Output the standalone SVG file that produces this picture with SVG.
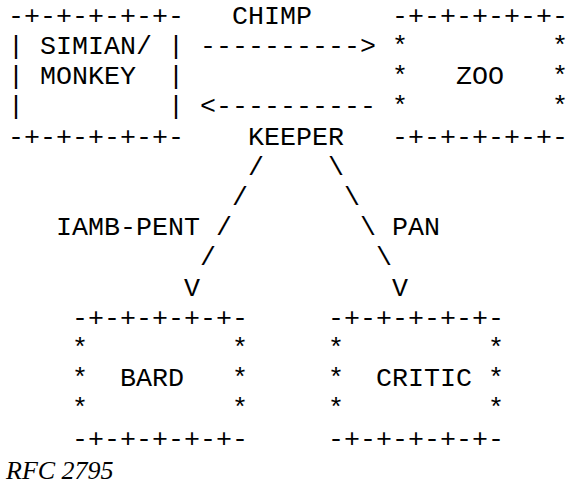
<svg xmlns="http://www.w3.org/2000/svg" width="569" height="484" viewBox="0 0 569 484">
<style>
text{font-family:"Liberation Mono","Courier New",monospace;font-size:26.67px;fill:#000;white-space:pre}
.cap{font-family:"Liberation Serif","Times New Roman",serif;font-style:italic;font-size:26px}
</style>
<rect width="569" height="484" fill="#fff"/>
<g id="node-simian">
<text x="8" y="23.8">-+-+-+-+-+-</text>
<text x="8" y="54">|</text><text x="40" y="54">SIMIAN/</text><text x="168" y="54">|</text>
<text x="8" y="84.2">|</text><text x="40" y="84.2">MONKEY</text><text x="168" y="84.2">|</text>
<text x="8" y="114.4">|</text><text x="168" y="114.4">|</text>
<text x="8" y="144.6">-+-+-+-+-+-</text>
</g>
<g id="node-zoo">
<text x="392" y="23.8">-+-+-+-+-+-</text>
<text x="392" y="54">*</text><text x="552" y="54">*</text>
<text x="392" y="84.2">*</text><text x="456" y="84.2">ZOO</text><text x="552" y="84.2">*</text>
<text x="392" y="114.4">*</text><text x="552" y="114.4">*</text>
<text x="392" y="144.6">-+-+-+-+-+-</text>
</g>
<g id="node-bard">
<text x="72" y="325.8">-+-+-+-+-+-</text>
<text x="72" y="356">*</text><text x="232" y="356">*</text>
<text x="72" y="386.2">*</text><text x="120" y="386.2">BARD</text><text x="232" y="386.2">*</text>
<text x="72" y="416.4">*</text><text x="232" y="416.4">*</text>
<text x="72" y="446.6">-+-+-+-+-+-</text>
</g>
<g id="node-critic">
<text x="328" y="325.8">-+-+-+-+-+-</text>
<text x="328" y="356">*</text><text x="488" y="356">*</text>
<text x="328" y="386.2">*</text><text x="376" y="386.2">CRITIC</text><text x="488" y="386.2">*</text>
<text x="328" y="416.4">*</text><text x="488" y="416.4">*</text>
<text x="328" y="446.6">-+-+-+-+-+-</text>
</g>
<g id="connectors">
<g id="edge-chimp">
<text x="232" y="23.8">CHIMP</text>
<text x="200" y="54">----------&gt;</text>
</g>
<g id="edge-keeper">
<text x="200" y="114.4">&lt;----------</text>
<text x="248" y="144.6">KEEPER</text>
</g>
<g id="edge-iamb">
<text x="248" y="174.8">/</text>
<text x="232" y="205">/</text>
<text x="56" y="235.2">IAMB-PENT</text><text x="216" y="235.2">/</text>
<text x="200" y="265.4">/</text>
<text x="184" y="295.6">V</text>
</g>
<g id="edge-pan">
<text x="328" y="174.8">\</text>
<text x="344" y="205">\</text>
<text x="360" y="235.2">\</text><text x="392" y="235.2">PAN</text>
<text x="376" y="265.4">\</text>
<text x="392" y="295.6">V</text>
</g>
</g>
<text class="cap" x="6" y="478.5">RFC 2795</text>
</svg>
